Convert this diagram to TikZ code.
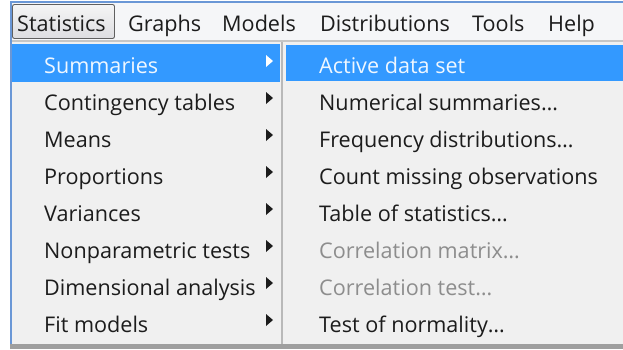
\documentclass[tikz,border=0pt]{standalone}
\usepackage{fontspec}
\setmainfont{Open Sans}
\usetikzlibrary{positioning,calc}
\definecolor{hiblue}{HTML}{3399FF}
\definecolor{menubg}{HTML}{F0F0F0}
\definecolor{barbg}{HTML}{F5F6F8}
\definecolor{frameblue}{HTML}{6A97D6}
\definecolor{inktext}{HTML}{1C1C1C}
\definecolor{offtext}{HTML}{8D8D8D}
\tikzset{
  menutext/.style={anchor=base west, inner sep=0pt, text=inktext,
    font=\fontsize{21.6}{25}\selectfont},
  hitext/.style={menutext, text=white!92!hiblue},
  offitem/.style={menutext, text=offtext},
}

\begin{document}
\begin{tikzpicture}[x=1pt,y=-1pt]
    \useasboundingbox (0,0) rectangle (623,349);
    \fill[white] (0,0) rectangle (623,349);
    % menu bar
    \fill[barbg] (10,2) rectangle (623,40);
    \fill[gray!45] (10,40) rectangle (623,42);
    \fill[menubg] (11,42) rectangle (623,344);
    \draw[rounded corners=2pt, draw=gray!75!black, line width=0.9pt,
      top color=gray!8, bottom color=blue!6!gray!25] (12.5,4.5) rectangle (114.5,38.5);
    \node[menutext] (stat) at (17,31) {Statistics};
    \node[menutext] (graphs) at (128,31) {Graphs};
    \node[menutext] (models) at (222,31) {Models};
    \node[menutext] (distr) at (320,31) {Distributions};
    \node[menutext] (tools) at (472,31) {Tools};
    \node[menutext] (help) at (548,31) {Help};
    % highlighted rows
    \fill[hiblue] (12,44) rectangle (280,82);
    \fill[hiblue] (286,45) rectangle (623,81);
    \fill[gray!55] (281,42) rectangle (283,345);
    % left menu
    \foreach \name/\label [count=\i] in {summ/Summaries, cont/Contingency tables,
        means/Means, props/Proportions, vars/Variances,
        nonpar/Nonparametric tests, dimen/Dimensional analysis, fit/Fit models} {
      \pgfmathsetmacro\yb{73+37*(\i-1)}
      \ifnum\i=1
        \node[hitext] (\name) at (44,\yb) {\label};
        \def\arrcol{white}
      \else
        \node[menutext] (\name) at (44,\yb) {\label};
        \def\arrcol{inktext}
      \fi
      \coordinate (\name-arr) at (266,\yb-12);
      \fill[\arrcol] (\name-arr) ++(0,-6) -- ++(7,6) -- ++(-7,6) -- cycle;
    }
    % right menu
    \foreach \name/\label/\sty [count=\i] in {active/Active data set/hitext,
        numsum/Numerical summaries…/menutext, freq/Frequency distributions…/menutext,
        miss/Count missing observations/menutext, tab/Table of statistics…/menutext,
        cormat/Correlation matrix…/offitem, cortest/Correlation test…/offitem,
        normal/Test of normality…/menutext} {
      \pgfmathsetmacro\yb{73+37*(\i-1)}
      \node[\sty] (\name) at (319,\yb) {\label};
    }
    % frame and shadow
    \fill[gray!75] (10,344) rectangle (623,349);
    \draw[frameblue, line width=1.5pt] (10.75,344) -- (10.75,1.75) -- (623,1.75);
\end{tikzpicture}
\end{document}
